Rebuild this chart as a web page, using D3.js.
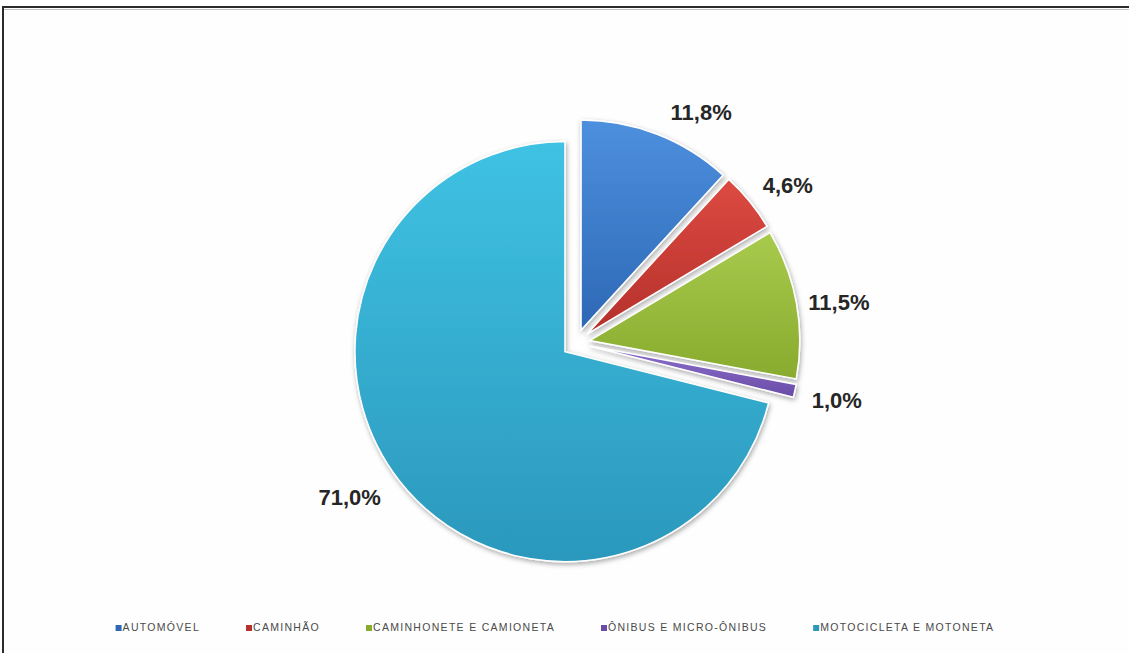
<!DOCTYPE html>
<html>
<head>
	<meta http-equiv="Content-Type" content="text/html; charset=utf-8">
	<title>Frota por tipo de veiculo</title>
	<script type="text/javascript" src="https://cdn.jsdelivr.net/npm/d3@7"></script>
	<style type="text/css">
		html, body{ margin:0; background:#fff; overflow:hidden; }
		svg{ display:block; }
	</style>
</head>
<body>
<div id="chart"></div>

<script type="text/javascript">

// data
var categories = ["AUTOMÓVEL", "CAMINHÃO", "CAMINHONETE E CAMIONETA", "ÔNIBUS E MICRO-ÔNIBUS", "MOTOCICLETA E MOTONETA"];
var values = [11.8, 4.6, 11.5, 1.0, 71.0];
var valueLabels = ["11,8%", "4,6%", "11,5%", "1,0%", "71,0%"];
var colorsTop = ["#4d90de", "#dc4a42", "#a8cb4e", "#8d70cc", "#3fc2e3"];
var colorsBottom = ["#2d68b5", "#b5302a", "#88ab2e", "#6a4ca8", "#2b98bc"];

var width = 1129, height = 653;
var cx = 576, cy = 343, radius = 210, explode = 14;

var svg = d3.select("#chart").append("svg")
	.attr("width", width)
	.attr("height", height);

var defs = svg.append("defs");

var shadow = defs.append("filter").attr("id", "shadow")
	.attr("x", "-20%").attr("y", "-20%").attr("width", "140%").attr("height", "140%");
shadow.append("feDropShadow")
	.attr("dx", 1).attr("dy", 2).attr("stdDeviation", 2.5)
	.attr("flood-color", "#000").attr("flood-opacity", 0.35);

values.forEach(function(v, i){
	var g = defs.append("linearGradient").attr("id", "grad" + i)
		.attr("x1", 0).attr("y1", 0).attr("x2", 0).attr("y2", 1);
	g.append("stop").attr("offset", "0%").attr("stop-color", colorsTop[i]);
	g.append("stop").attr("offset", "100%").attr("stop-color", colorsBottom[i]);
});

// frame (only top and left edges show in the picture)
svg.append("rect")
	.attr("x", 0).attr("y", 0)
	.attr("width", width).attr("height", height)
	.attr("fill", "#fefefe");
svg.append("line")
	.attr("x1", 2).attr("x2", width).attr("y1", 7).attr("y2", 7)
	.attr("stroke", "#2b2b2b").attr("stroke-width", 2);
svg.append("line")
	.attr("x1", 3).attr("x2", 3).attr("y1", 6).attr("y2", height)
	.attr("stroke", "#2b2b2b").attr("stroke-width", 2);
svg.append("line")
	.attr("x1", 4).attr("x2", width).attr("y1", 9.5).attr("y2", 9.5)
	.attr("stroke", "#999").attr("stroke-width", 1).attr("opacity", 0.6);

var pie = d3.pie().sort(null).value(function(d){ return d; });
var arcs = pie(values);
var arc = d3.arc().innerRadius(0).outerRadius(radius);

function midAngle(d){ return (d.startAngle + d.endAngle) / 2; }

// every slice pulled out along its bisector by the same amount
function apex(d){
	var a = midAngle(d);
	return [cx + Math.sin(a) * explode, cy - Math.cos(a) * explode];
}

var slices = svg.append("g").attr("class", "slices");
slices.selectAll("path")
	.data(arcs)
	.enter()
	.append("path")
	.attr("transform", function(d){ var p = apex(d); return "translate(" + p[0] + "," + p[1] + ")"; })
	.attr("d", arc)
	.attr("fill", function(d, i){ return "url(#grad" + i + ")"; })
	.attr("stroke", "#ffffff")
	.attr("stroke-width", 1.5)
	.attr("filter", "url(#shadow)");

// labels, outside end (small per-slice tweaks like excel's best fit)
var labelShift = [7.7, 2.7, 1.5, 0, 3.8];
var labelDist = [248, 250, 252, 253, 260];

svg.append("g").selectAll("text")
	.data(arcs)
	.enter()
	.append("text")
	.attr("x", function(d, i){ var a = midAngle(d) + labelShift[i] * Math.PI / 180; return apex(d)[0] + Math.sin(a) * labelDist[i]; })
	.attr("y", function(d, i){ var a = midAngle(d) + labelShift[i] * Math.PI / 180; return apex(d)[1] - Math.cos(a) * labelDist[i]; })
	.attr("text-anchor", "middle")
	.attr("dominant-baseline", "central")
	.attr("font-family", "'Liberation Sans', Arial, sans-serif")
	.attr("font-weight", "bold")
	.attr("font-size", 22)
	.attr("fill", "#262626")
	.text(function(d, i){ return valueLabels[i]; });

// legend
var legend = svg.append("g").attr("class", "legend");
var items = legend.selectAll("g")
	.data(categories)
	.enter()
	.append("g");

items.append("rect")
	.attr("width", 6).attr("height", 6)
	.attr("y", -6)
	.attr("fill", function(d, i){ return colorsBottom[i]; });

items.append("text")
	.attr("x", 7)
	.attr("font-family", "'Liberation Sans', Arial, sans-serif")
	.attr("font-size", 10.5)
	.attr("letter-spacing", 1.3)
	.attr("fill", "#4a4a4a")
	.text(function(d){ return d; });

var xpos = 0;
items.each(function(){
	var g = d3.select(this);
	g.attr("transform", "translate(" + xpos + ",0)");
	xpos += 7 + g.select("text").node().getComputedTextLength() + 46;
});
var total = xpos - 46;
legend.attr("transform", "translate(" + (555 - total / 2) + ",631)");

</script>
</body>
</html>
